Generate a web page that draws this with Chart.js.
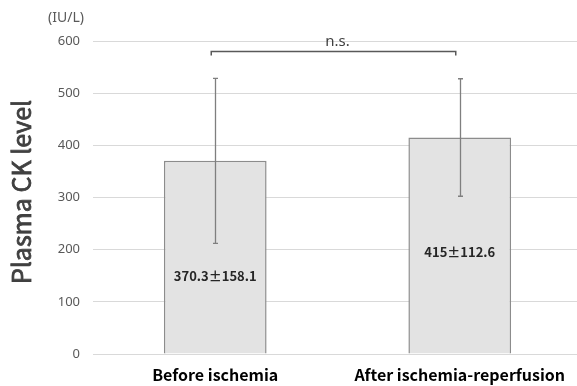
<!DOCTYPE html>
<html>
<head>
<meta charset="utf-8">
<script src="https://cdn.jsdelivr.net/npm/chart.js@4/dist/chart.umd.min.js"></script>
<style>
  html, body { margin: 0; padding: 0; background: #fff; overflow: hidden; }
  #wrap { width: 582px; height: 386px; position: relative; }
</style>
</head>
<body>
<div id="wrap"><canvas id="c"></canvas></div>
<script>
// Plasma CK before and after ischemia-reperfusion (mean ± SD)
const groups = ['Before ischemia', 'After ischemia-reperfusion'];
const meanCK = [370.3, 415];
const sdCK = [158.1, 112.6];
const valueLabels = ['370.3\u00b1158.1', '415\u00b1112.6'];
const yTicks = [0, 100, 200, 300, 400, 500, 600];

const FONT = '"Noto Sans CJK JP", "Noto Sans", sans-serif';
const LATIN = '"Noto Sans", sans-serif';

const extras = {
  id: 'extras',
  afterDatasetsDraw(chart, args, opts) {
    const { ctx, scales: { y } } = chart;
    const meta = chart.getDatasetMeta(0);
    ctx.save();

    // error bars
    ctx.strokeStyle = '#7f7f7f';
    ctx.lineWidth = 1.3;
    meta.data.forEach((bar, i) => {
      const cx = Math.round(bar.x) + 0.5;
      const yHi = y.getPixelForValue(meanCK[i] + sdCK[i]);
      const yLo = y.getPixelForValue(meanCK[i] - sdCK[i]);
      ctx.beginPath();
      ctx.moveTo(cx, yHi); ctx.lineTo(cx, yLo);
      ctx.moveTo(cx - 2.5, yHi); ctx.lineTo(cx + 2.5, yHi);
      ctx.moveTo(cx - 2.5, yLo); ctx.lineTo(cx + 2.5, yLo);
      ctx.stroke();
    });

    // value labels inside the bars
    ctx.fillStyle = '#262626';
    ctx.font = 'bold 13px ' + FONT;
    ctx.textAlign = 'center';
    ctx.textBaseline = 'middle';
    meta.data.forEach((bar, i) => {
      ctx.fillText(valueLabels[i], bar.x, y.getPixelForValue(opts.labelAt[i]));
    });

    // significance bracket
    const x1 = meta.data[0].x - 4, x2 = meta.data[1].x - 4;
    const by = Math.round(y.getPixelForValue(opts.bracketAt)) + 0.5;
    ctx.strokeStyle = '#595959';
    ctx.lineWidth = 1.5;
    ctx.beginPath();
    ctx.moveTo(x1, by + 4); ctx.lineTo(x1, by); ctx.lineTo(x2, by); ctx.lineTo(x2, by + 4);
    ctx.stroke();
    ctx.fillStyle = '#404040';
    ctx.font = '15px ' + LATIN;
    ctx.textBaseline = 'alphabetic';
    ctx.fillText('n.s.', (x1 + x2) / 2 + 4, by - 6);

    // unit and axis title
    ctx.fillStyle = '#595959';
    ctx.font = '14px ' + LATIN;
    ctx.fillText('(IU/L)', 66, 22);

    // axis title: regular face thickened slightly with a hairline stroke
    ctx.fillStyle = '#404040';
    ctx.strokeStyle = '#404040';
    ctx.lineWidth = 0.8;
    ctx.font = '25px ' + FONT;
    ctx.textBaseline = 'alphabetic';
    ctx.translate(31, 192);
    ctx.rotate(-Math.PI / 2);
    ctx.fillText('Plasma CK level', 0, 0);
    ctx.strokeText('Plasma CK level', 0, 0);
    ctx.restore();
  }
};

new Chart(document.getElementById('c'), {
  type: 'bar',
  data: {
    labels: groups,
    datasets: [{
      data: meanCK,
      backgroundColor: '#e3e3e3',
      borderColor: '#8c8c8c',
      borderWidth: 1.5,
      barPercentage: 0.42,
      categoryPercentage: 1.0
    }]
  },
  options: {
    responsive: true,
    maintainAspectRatio: false,
    animation: false,
    layout: { padding: { top: 41, left: 0, right: 0, bottom: 0 } },
    plugins: {
      legend: { display: false },
      tooltip: { enabled: false },
      extras: { labelAt: [150, 196], bracketAt: 581 }
    },
    scales: {
      x: {
        grid: { display: false, drawTicks: false },
        border: { display: false },
        ticks: { color: '#000', font: { family: FONT, size: 16, weight: 'bold' }, padding: 11 },
        afterFit(s) { s.height = 32; }
      },
      y: {
        min: 0, max: 600,
        afterBuildTicks(s) { s.ticks = yTicks.map(v => ({ value: v })); },
        grid: { color: '#d9d9d9', lineWidth: 1, drawTicks: false },
        border: { display: false },
        ticks: { color: '#595959', font: { family: LATIN, size: 13 }, padding: 13 },
        afterFit(s) { s.width = 93; }
      }
    }
  },
  plugins: [extras]
});
</script>
</body>
</html>
